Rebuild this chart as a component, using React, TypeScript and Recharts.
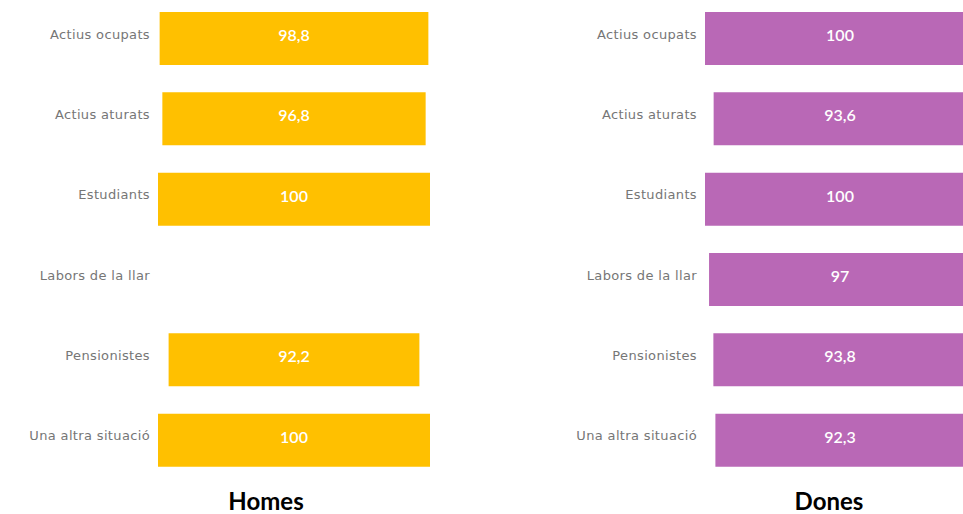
import { BarChart, Bar, XAxis, YAxis, LabelList } from "recharts";

const categories = [
  "Actius ocupats",
  "Actius aturats",
  "Estudiants",
  "Labors de la llar",
  "Pensionistes",
  "Una altra situació",
];
const homesValues: (number | null)[] = [98.8, 96.8, 100, null, 92.2, 100];
const donesValues: (number | null)[] = [100, 93.6, 100, 97, 93.8, 92.3];

const buildRows = (values: (number | null)[]) =>
  categories.map((name, i) => {
    const v = values[i];
    return {
      name,
      pad: v == null ? null : (100 - v) / 2,
      value: v,
    };
  });

const homesData = buildRows(homesValues);
const donesData = buildRows(donesValues);

const fmt = (v: any) => (v == null ? "" : String(v).replace(".", ","));

function CategoryTick({ x, y, payload }: any) {
  return (
    <text
      x={x}
      y={y - 4}
      textAnchor="end"
      dominantBaseline="central"
      fill="#767676"
      fontSize={13}
      fontFamily="'DejaVu Sans', sans-serif"
      style={{ letterSpacing: "0.35px" }}
    >
      {payload.value}
    </text>
  );
}

function ValueLabel({ x, y, width, height, value }: any) {
  if (value == null) return null;
  return (
    <text
      x={x + width / 2}
      y={y + height / 2 - 4}
      textAnchor="middle"
      dominantBaseline="central"
      fill="#ffffff"
      fontSize={16}
      fontWeight={600}
      fontFamily="Lato, sans-serif"
    >
      {fmt(value)}
    </text>
  );
}

function Panel({
  data,
  color,
  width,
  axisWidth,
  right,
}: {
  data: any[];
  color: string;
  width: number;
  axisWidth: number;
  right: number;
}) {
  return (
    <BarChart
      width={width}
      height={482}
      data={data}
      layout="vertical"
      margin={{ top: 0, right, bottom: 0, left: 0 }}
    >
      <XAxis type="number" domain={[0, 100]} hide />
      <YAxis
        type="category"
        dataKey="name"
        width={axisWidth}
        axisLine={false}
        tickLine={false}
        tick={<CategoryTick />}
      />
      <Bar
        dataKey="pad"
        stackId="s"
        fill="transparent"
        barSize={53}
        isAnimationActive={false}
      />
      <Bar
        dataKey="value"
        stackId="s"
        fill={color}
        barSize={53}
        isAnimationActive={false}
      >
        <LabelList dataKey="value" content={<ValueLabel />} />
      </Bar>
    </BarChart>
  );
}

const titleStyle = {
  position: "absolute" as const,
  width: 200,
  top: 486,
  textAlign: "center" as const,
  fontFamily: "Lato, sans-serif",
  fontWeight: 700,
  fontSize: 24,
  color: "#000",
};

export default function App() {
  return (
    <div
      style={{
        position: "absolute",
        left: 0,
        top: 0,
        width: 963,
        height: 514,
        overflow: "hidden",
        background: "#fff",
      }}
    >
      <div style={{ position: "absolute", left: 0, top: -2 }}>
        <Panel
          data={homesData}
          color="#FFC000"
          width={480}
          axisWidth={158}
          right={50}
        />
      </div>
      <div style={{ position: "absolute", left: 480, top: -2 }}>
        <Panel
          data={donesData}
          color="#B968B6"
          width={495}
          axisWidth={225}
          right={0}
        />
      </div>
      <div style={{ ...titleStyle, left: 166 }}>Homes</div>
      <div style={{ ...titleStyle, left: 729 }}>Dones</div>
    </div>
  );
}
